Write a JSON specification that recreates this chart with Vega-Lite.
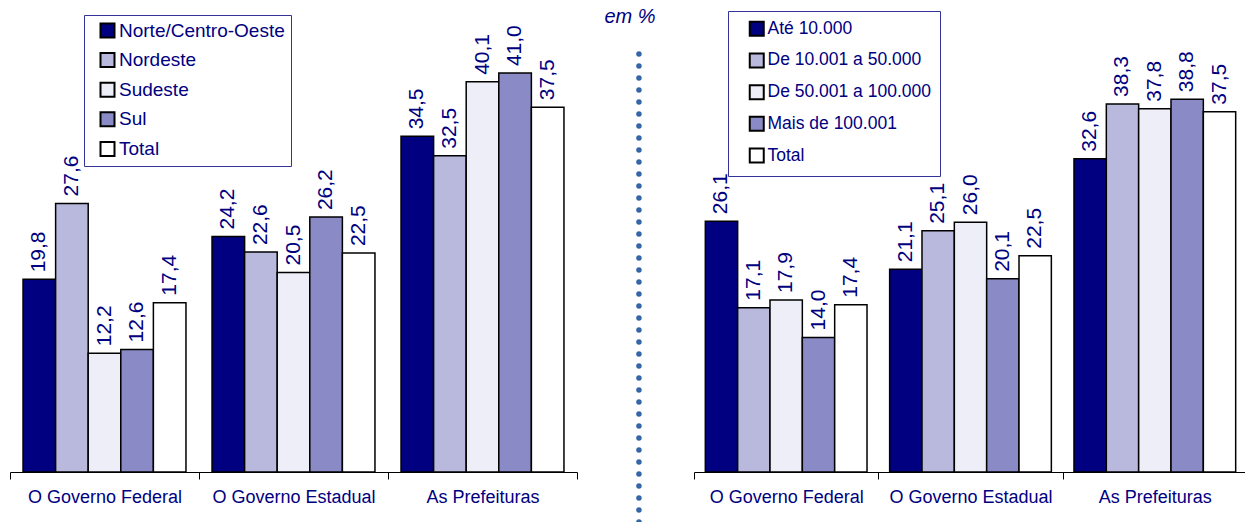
{
  "$schema": "https://vega.github.io/schema/vega-lite/v6.json",
  "padding": {"left": 9, "top": 5, "right": 0, "bottom": 0},
  "autosize": {"type": "pad"},
  "spacing": 0,
  "config": {
    "font": "Liberation Sans",
    "view": {"stroke": null},
    "locale": {
      "number": {"decimal": ",", "thousands": ".", "grouping": [3], "currency": ["R$ ", ""]}
    },
    "axisX": {
      "title": null,
      "labelAngle": 0,
      "tickBand": "extent",
      "domainColor": "black",
      "domainWidth": 1,
      "tickColor": "black",
      "tickSize": 7,
      "labelFont": "Liberation Sans",
      "labelFontSize": 18,
      "labelColor": "#000080",
      "labelPadding": 9
    },
    "legend": {
      "title": null,
      "orient": "none",
      "direction": "vertical",
      "fillColor": "white",
      "strokeColor": "#333399",
      "symbolType": "square",
      "symbolSize": 196,
      "symbolStrokeColor": "black",
      "symbolStrokeWidth": 2,
      "labelFont": "Liberation Sans",
      "labelColor": "#000080",
      "labelOffset": 2,
      "labelLimit": 300
    }
  },
  "resolve": {
    "scale": {"fill": "independent", "xOffset": "independent", "x": "independent", "y": "independent"},
    "legend": {"fill": "independent"}
  },
  "hconcat": [
    {
      "width": 567,
      "height": 467,
      "data": {
        "values": [
          {"esfera": "O Governo Federal", "grupo": "Norte/Centro-Oeste", "valor": 19.8},
          {"esfera": "O Governo Federal", "grupo": "Nordeste", "valor": 27.6},
          {"esfera": "O Governo Federal", "grupo": "Sudeste", "valor": 12.2},
          {"esfera": "O Governo Federal", "grupo": "Sul", "valor": 12.6},
          {"esfera": "O Governo Federal", "grupo": "Total", "valor": 17.4},
          {"esfera": "O Governo Estadual", "grupo": "Norte/Centro-Oeste", "valor": 24.2},
          {"esfera": "O Governo Estadual", "grupo": "Nordeste", "valor": 22.6},
          {"esfera": "O Governo Estadual", "grupo": "Sudeste", "valor": 20.5},
          {"esfera": "O Governo Estadual", "grupo": "Sul", "valor": 26.2},
          {"esfera": "O Governo Estadual", "grupo": "Total", "valor": 22.5},
          {"esfera": "As Prefeituras", "grupo": "Norte/Centro-Oeste", "valor": 34.5},
          {"esfera": "As Prefeituras", "grupo": "Nordeste", "valor": 32.5},
          {"esfera": "As Prefeituras", "grupo": "Sudeste", "valor": 40.1},
          {"esfera": "As Prefeituras", "grupo": "Sul", "valor": 41.0},
          {"esfera": "As Prefeituras", "grupo": "Total", "valor": 37.5}
        ]
      },
      "encoding": {
        "x": {
          "field": "esfera",
          "type": "nominal",
          "scale": {
            "domain": ["O Governo Federal", "O Governo Estadual", "As Prefeituras"],
            "paddingInner": 0,
            "paddingOuter": 0
          }
        },
        "xOffset": {
          "field": "grupo",
          "type": "nominal",
          "scale": {
            "domain": ["Norte/Centro-Oeste", "Nordeste", "Sudeste", "Sul", "Total"],
            "paddingInner": 0,
            "paddingOuter": 0.4
          }
        },
        "y": {
          "field": "valor",
          "type": "quantitative",
          "scale": {"domain": [0, 48], "nice": false, "zero": true},
          "axis": null
        }
      },
      "layer": [
        {
          "mark": {"type": "bar", "stroke": "black", "strokeWidth": 1.5},
          "encoding": {
            "fill": {
              "field": "grupo",
              "type": "nominal",
              "scale": {
                "domain": ["Norte/Centro-Oeste", "Nordeste", "Sudeste", "Sul", "Total"],
                "range": ["#000080", "#b9b9dd", "#eeeef8", "#8a8ac6", "#ffffff"]
              },
              "legend": {
                "legendX": 74,
                "legendY": 10,
                "padding": 6,
                "symbolOffset": 8,
                "rowPadding": 6.6,
                "labelFontSize": 19
              }
            }
          }
        },
        {
          "mark": {
            "type": "text",
            "angle": 270,
            "align": "left",
            "baseline": "middle",
            "dx": 7,
            "fontSize": 21,
            "color": "#000080"
          },
          "encoding": {
            "text": {"field": "valor", "type": "quantitative", "format": ".1f"}
          }
        }
      ]
    },
    {
      "width": 115,
      "height": 517,
      "data": {"values": [{"unidade": "em %"}]},
      "layer": [
        {
          "mark": {
            "type": "rule",
            "stroke": "#3366a3",
            "strokeWidth": 5.5,
            "strokeDash": [0, 12],
            "strokeCap": "round"
          },
          "encoding": {
            "x": {"datum": 0.53, "type": "quantitative", "scale": {"domain": [0, 1]}, "axis": null},
            "y": {"datum": 0, "type": "quantitative", "scale": {"domain": [0, 1]}, "axis": null},
            "y2": {"datum": 0.928}
          }
        },
        {
          "mark": {
            "type": "text",
            "fontSize": 20,
            "fontStyle": "italic",
            "color": "#000080",
            "align": "center",
            "baseline": "alphabetic"
          },
          "encoding": {
            "x": {"datum": 0.452, "type": "quantitative", "scale": {"domain": [0, 1]}, "axis": null},
            "y": {"datum": 0.966, "type": "quantitative", "scale": {"domain": [0, 1]}, "axis": null},
            "text": {"field": "unidade"}
          }
        }
      ]
    },
    {
      "width": 553,
      "height": 467,
      "data": {
        "values": [
          {"esfera": "O Governo Federal", "grupo": "Até 10.000", "valor": 26.1},
          {"esfera": "O Governo Federal", "grupo": "De 10.001 a 50.000", "valor": 17.1},
          {"esfera": "O Governo Federal", "grupo": "De 50.001 a 100.000", "valor": 17.9},
          {"esfera": "O Governo Federal", "grupo": "Mais de 100.001", "valor": 14.0},
          {"esfera": "O Governo Federal", "grupo": "Total", "valor": 17.4},
          {"esfera": "O Governo Estadual", "grupo": "Até 10.000", "valor": 21.1},
          {"esfera": "O Governo Estadual", "grupo": "De 10.001 a 50.000", "valor": 25.1},
          {"esfera": "O Governo Estadual", "grupo": "De 50.001 a 100.000", "valor": 26.0},
          {"esfera": "O Governo Estadual", "grupo": "Mais de 100.001", "valor": 20.1},
          {"esfera": "O Governo Estadual", "grupo": "Total", "valor": 22.5},
          {"esfera": "As Prefeituras", "grupo": "Até 10.000", "valor": 32.6},
          {"esfera": "As Prefeituras", "grupo": "De 10.001 a 50.000", "valor": 38.3},
          {"esfera": "As Prefeituras", "grupo": "De 50.001 a 100.000", "valor": 37.8},
          {"esfera": "As Prefeituras", "grupo": "Mais de 100.001", "valor": 38.8},
          {"esfera": "As Prefeituras", "grupo": "Total", "valor": 37.5}
        ]
      },
      "encoding": {
        "x": {
          "field": "esfera",
          "type": "nominal",
          "scale": {
            "domain": ["O Governo Federal", "O Governo Estadual", "As Prefeituras"],
            "paddingInner": 0,
            "paddingOuter": 0
          }
        },
        "xOffset": {
          "field": "grupo",
          "type": "nominal",
          "scale": {
            "domain": ["Até 10.000", "De 10.001 a 50.000", "De 50.001 a 100.000", "Mais de 100.001", "Total"],
            "paddingInner": 0,
            "paddingOuter": 0.35
          }
        },
        "y": {
          "field": "valor",
          "type": "quantitative",
          "scale": {"domain": [0, 48.6], "nice": false, "zero": true},
          "axis": null
        }
      },
      "layer": [
        {
          "mark": {"type": "bar", "stroke": "black", "strokeWidth": 1.5},
          "encoding": {
            "fill": {
              "field": "grupo",
              "type": "nominal",
              "scale": {
                "domain": ["Até 10.000", "De 10.001 a 50.000", "De 50.001 a 100.000", "Mais de 100.001", "Total"],
                "range": ["#000080", "#b9b9dd", "#eeeef8", "#8a8ac6", "#ffffff"]
              },
              "legend": {
                "legendX": 34,
                "legendY": 6,
                "padding": 9,
                "symbolOffset": 11,
                "rowPadding": 8.7,
                "labelFontSize": 17.5
              }
            }
          }
        },
        {
          "mark": {
            "type": "text",
            "angle": 270,
            "align": "left",
            "baseline": "middle",
            "dx": 7,
            "fontSize": 21,
            "color": "#000080"
          },
          "encoding": {
            "text": {"field": "valor", "type": "quantitative", "format": ".1f"}
          }
        }
      ]
    }
  ]
}
